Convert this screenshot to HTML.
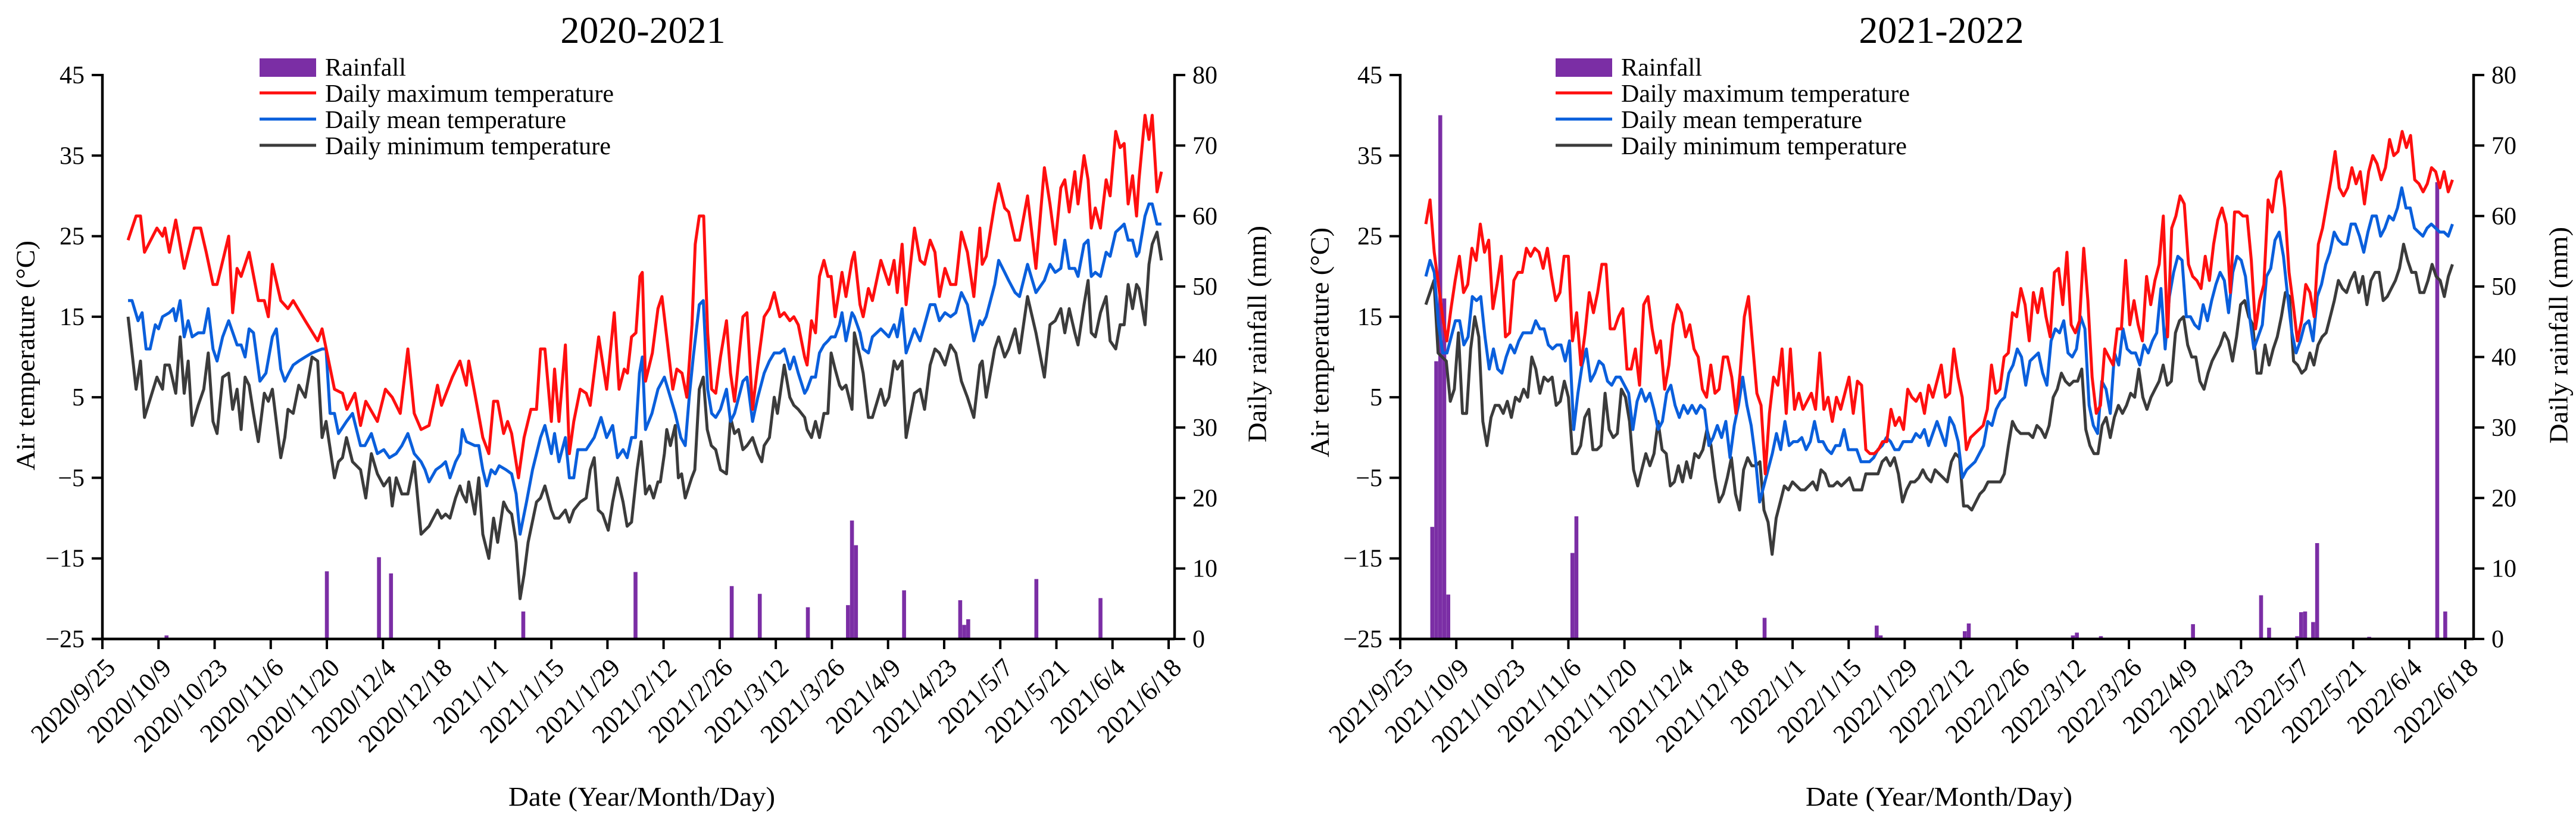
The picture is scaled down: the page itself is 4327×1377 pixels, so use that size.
<!DOCTYPE html>
<html><head><meta charset="utf-8"><style>
html,body{margin:0;padding:0;background:#fff;}
svg{display:block;font-family:"Liberation Serif","Times New Roman",serif;}
</style></head><body>
<svg id="chart" xmlns="http://www.w3.org/2000/svg" width="4327" height="1377" viewBox="0 0 4327 1377"></svg>
<script>
// ===== Data: panel 1 (2020-2021), days since 2020/9/25 =====
const tickLabels1 = ["2020/9/25","2020/10/9","2020/10/23","2020/11/6","2020/11/20","2020/12/4","2020/12/18","2021/1/1","2021/1/15","2021/1/29","2021/2/12","2021/2/26","2021/3/12","2021/3/26","2021/4/9","2021/4/23","2021/5/7","2021/5/21","2021/6/4","2021/6/18"];
const maxDays1 = [6.4,8.4,9.5,10.5,13.6,15.0,15.6,16.7,18.3,20.4,22.9,24.5,25.9,27.6,28.6,31.5,32.5,33.6,34.6,36.6,38.9,40.4,41.4,42.4,44.5,46.3,47.6,50.6,53.7,54.8,57.9,59.9,61.0,63.0,64.4,65.7,68.6,70.6,72.3,74.3,76.2,77.8,79.5,81.5,83.6,84.6,87.3,89.2,90.8,91.4,92.9,94.9,96.4,97.6,98.6,100.1,101.1,102.1,103.8,105.2,106.9,108.3,109.3,110.4,112.0,112.8,113.9,115.5,116.5,117.6,119.2,120.7,121.7,123.8,125.8,127.7,128.9,130.2,131.0,132.0,133.1,134.1,134.7,135.5,137.2,138.6,139.6,140.9,142.3,143.3,144.6,145.8,147.1,147.9,148.9,150.0,151.0,152.0,153.0,154.2,155.7,156.7,157.7,159.8,160.8,162.2,163.5,165.1,166.4,167.6,169.0,170.1,171.5,172.5,173.6,175.2,175.8,176.9,177.9,178.9,180.0,181.0,181.8,182.8,183.9,184.5,185.5,187.0,187.6,189.0,189.8,191.1,192.1,194.2,196.2,197.5,198.3,199.5,200.5,202.6,204.0,205.1,206.5,207.7,208.8,210.2,211.6,212.9,214.3,215.8,217.4,218.9,219.5,220.5,222.6,223.6,225.1,226.1,227.7,228.8,230.8,232.9,235.0,236.4,237.7,239.1,240.1,241.2,242.6,243.4,244.9,245.9,246.7,247.7,249.0,250.4,251.4,252.8,253.9,254.9,255.9,257.0,258.0,258.6,260.1,261.1,261.9,263.1,264.2];
const maxVals1 = [24.5,27.5,27.5,23,26,25,26,23,27,21,26,26,23,19,19,25,15.5,21,20,23,17,17,15,21.5,17,16,17,14.5,12,13.5,6,5.5,3.5,5.5,1.5,4.5,2,6,5,3,11,3,1,1.5,6.5,4,7.5,9.5,6.5,9.5,5.5,0,-2,4.5,4.5,0.5,2,0.5,-5,0,3.5,3.5,11,11,2,8.5,2,11.5,-2,2,6,5.5,4,12.5,6,15.5,6,8.5,8,12.5,13,20,20.5,7,10.5,16,17.5,12,6,8.5,8,5,14,24,27.5,27.5,13,6,5.5,10,14.5,8,4.5,15,15.5,3.5,9,15,16,18,15,15.5,14.5,15,14,10,9,14.5,13,20,22,20,20,15,18.5,20.5,17.5,22,23,16.5,15,18.5,17,22,19,22,18,24,16.5,26,22,21.5,24.5,23,17.5,21,19,19,25.5,23,17.5,26,21.5,22.5,29,31.5,28.5,28,24.5,24.5,30,21,33.5,29,24,31,32,28,33,29,35,32,26,28.5,26,32,30,38,36,36.5,29,32.5,27.5,32,40,37,40,30.5,33];
const meanDays1 = [6.4,7.4,8.9,9.9,10.9,11.9,13.2,14.0,15.0,16.7,17.7,18.3,19.4,20.4,21.4,22.4,23.9,25.3,26.4,27.6,28.6,30.0,31.5,33.6,34.6,35.6,36.6,37.7,39.3,40.8,42.4,43.4,44.5,45.5,46.5,47.6,49.0,50.6,52.3,54.8,55.8,56.8,57.9,58.9,60.9,62.4,64.4,65.5,67.1,68.6,70.2,71.6,73.3,74.7,76.2,77.8,79.5,80.5,81.5,83.2,84.6,85.6,86.7,88.1,89.2,89.8,90.8,92.9,93.9,94.9,95.9,97.0,98.0,99.0,100.7,102.1,103.2,104.2,105.8,107.3,109.3,110.4,112.0,112.8,113.9,115.5,116.5,117.6,118.6,120.7,122.7,124.4,125.8,127.3,128.5,129.9,130.9,132.0,133.0,134.0,134.7,135.5,137.1,138.6,140.2,141.7,142.9,144.3,145.4,146.4,147.4,148.9,149.9,151.0,152.0,153.0,154.2,155.7,156.7,157.7,159.8,160.8,162.2,163.5,165.1,166.4,167.6,169.0,170.1,171.5,172.5,173.6,175.2,175.8,176.9,177.9,178.9,180.0,181.0,181.8,182.8,183.9,184.5,185.5,187.0,187.6,189.0,189.8,191.1,192.1,194.2,196.2,197.5,198.3,199.5,200.5,202.6,204.0,205.1,206.5,207.7,208.8,210.2,211.6,212.9,214.3,215.8,217.4,218.9,219.5,220.5,222.6,223.6,225.1,226.1,227.7,228.8,230.8,232.9,235.0,236.4,237.7,239.1,240.1,241.2,242.6,243.4,244.9,245.9,246.7,247.7,249.0,250.4,251.4,252.8,253.9,254.9,255.9,257.0,258.0,258.6,260.1,261.1,261.9,263.1,264.2];
const meanVals1 = [17,17,14.5,15.5,11,11,14,13.5,15,15.5,16,14.5,17,12.5,14.5,12.5,13,13,16,11,9.5,12.5,14.5,11.5,11.5,10,13.5,13,7,8,12.5,13.5,8.5,7,8,9,9.5,10,10.5,11,11,3,3,0.5,2,3,-1,-1,0.5,-2,-1.5,-2.5,-2,-1,0.5,-2,-3,-4,-5.5,-4,-3.5,-3,-5,-3,-2,1,-0.5,-1,-1,-4,-6,-4,-4.5,-3.5,-4,-4.5,-7,-12,-8,-4,0,1.5,-2,0.5,-3,0,-5,-5,-1.5,-1.5,0,2.5,0,1.5,-2.5,-1.5,-2.5,0,0,8,10,1,3,6,7.5,5,3,0,-1,5,10,16.5,17,6,3,2.5,3.5,6,2,3,7,7.5,2,5,8,9.5,10.5,10.5,11,8.5,10,8,5.5,6,7.5,7.5,10.5,11.5,12,12.5,12.5,14,15.5,12,15.5,15,13,11,10.5,12.5,13.5,12.5,14,12.5,16,10.5,13.5,12,14,16.5,16.5,14.5,15.5,15,15.5,18,16.5,12,14.5,14,15,19,22,20.5,19.5,18,17.5,21.5,18,19.5,21.5,20.5,21,24.5,21,21,20,24,24.5,20,20.5,20,23,22.5,25.5,26,26.5,24.5,24.5,22.5,23,27.5,29,29,26.5,26.5];
const minDays1 = [6.4,8.4,9.5,10.5,13.6,15.0,15.6,16.7,18.3,19.4,20.4,21.4,22.4,23.9,25.3,26.4,27.6,28.6,30.0,31.5,32.5,33.6,34.6,35.6,36.6,37.7,38.9,40.4,41.4,42.4,44.5,45.5,46.3,47.6,49.0,50.6,52.3,53.7,54.8,55.8,57.9,58.9,59.9,60.9,62.4,64.4,65.7,67.1,68.6,70.2,71.6,72.3,73.3,74.7,76.2,77.8,79.5,80.5,81.5,83.6,84.6,85.6,86.7,88.1,89.2,89.8,90.8,91.4,92.9,93.9,94.9,96.4,97.6,98.6,100.1,101.1,102.1,103.2,104.2,105.2,106.2,108.3,109.3,110.4,112.0,112.8,113.9,115.5,116.5,117.6,119.2,120.7,121.7,122.7,123.7,124.8,126.2,127.3,128.5,129.9,130.9,132.0,133.4,134.4,135.5,136.5,137.5,138.6,139.2,140.2,140.8,141.7,142.9,143.7,144.5,145.4,147.0,147.8,148.9,149.9,150.9,151.9,153.0,154.2,155.7,156.7,157.7,158.7,159.8,160.8,162.2,163.5,164.5,165.1,166.4,167.6,168.4,170.1,171.5,172.5,173.6,175.2,175.8,176.9,177.9,178.9,180.0,181.0,181.8,182.8,183.9,184.5,185.5,187.0,187.6,189.0,189.8,191.1,192.1,194.2,195.2,196.2,197.5,198.3,199.5,200.5,202.6,204.0,205.1,206.5,207.7,208.8,210.2,211.6,212.9,214.3,215.8,217.4,218.9,219.5,220.5,222.6,223.6,225.1,226.1,227.7,228.8,230.8,232.9,235.0,236.4,237.7,239.1,240.1,241.2,242.6,243.4,244.9,245.9,246.7,247.7,249.0,250.4,251.4,252.8,253.9,254.9,255.9,257.0,258.0,258.6,260.1,261.1,261.9,263.1,264.2];
const minVals1 = [15,6,9.5,2.5,7.5,6,9,9,5.5,12.5,5.5,9.5,1.5,4,6,10.5,2,0.5,7.5,8,3.5,6,1,7.5,6.5,3,-0.5,5.5,4.5,6,-2.5,0,3.5,3,6.5,5,10,9.5,0,2,-5,-3,-2.5,0,-3,-4,-7.5,-2,-4.5,-6,-5,-8.5,-5,-7,-7,-3,-12,-11.5,-11,-9,-10,-9.5,-10,-7.5,-6,-7,-8,-5.5,-9.5,-5,-12,-15,-10,-13,-8,-9,-9.5,-13,-20,-17,-13,-8,-7.5,-6,-9,-10,-10,-9,-10.5,-9,-8,-7.5,-4,-2.5,-9,-9.5,-11.5,-8,-5,-8,-11,-10.5,-4,-0.5,-7,-6,-7.5,-5.5,-5.5,-2,1,-1,1.5,-5,-4.5,-7.5,-5,-4,6,7.5,1,-1,-1.5,-4,-4.5,2.5,0.5,1,-1.5,-1,0,-2,-3,-1,0,5,3,9,5,4,3.5,2.5,1,0,2,0,3,3,10.5,8.5,6.5,6,6.5,3.5,13,10,8,2.5,2.5,6,4,5,9.5,8.5,9.5,0,5.5,6,3.5,9,11,10.5,9,11.5,10.5,7,5,2.5,9,9.5,5,11,12.5,10,11,13.5,10.5,17.5,13,7.5,14,14.5,16,13,16,13,11.5,16.5,19.5,13,12.5,15.5,17.5,12,11,14,14,19,16,19,18.5,14,21.5,24,25.5,22];
const rainDays1 = [16,56,69,72,105,133,157,164,176,186,187,188,200,214,215,216,233,249];
const rainVals1 = [0.5,9.6,11.6,9.3,3.9,9.5,7.5,6.4,4.5,4.8,16.8,13.3,6.9,5.5,2.0,2.8,8.5,5.8];

// ===== Data: panel 2 (2021-2022), daily records from day 6.4 to 262.8 since 2021/9/25 =====
const tickLabels2 = ["2021/9/25","2021/10/9","2021/10/23","2021/11/6","2021/11/20","2021/12/4","2021/12/18","2022/1/1","2022/1/15","2022/1/29","2022/2/12","2022/2/26","2022/3/12","2022/3/26","2022/4/9","2022/4/23","2022/5/7","2022/5/21","2022/6/4","2022/6/18"];
const recordStart2 = 6.4;
const recordEnd2 = 262.8;
const maxVals2 = [26.5,29.5,23,19,15,12,16,19.5,22.5,18,19,23.5,22,26.5,23,24.5,16,19,22.5,12.5,13,19.5,20.5,20.5,23.5,22.5,23.5,23,21,23.5,20,17,18,22.5,22.5,12,15.5,9,13,18,15.5,18,21.5,21.5,13.5,13.5,15,16,8.5,8.5,11,6.5,16.5,17.5,13.5,10.5,12,6,9,14,16.5,15.5,12.5,14,11,10,6,5,9,5.5,6,10,10,7.5,3,8,15,17.5,11.5,5.5,4,-4.5,3,7.5,6.5,11,3,11,3.5,5.5,3.5,4.5,5.5,3.5,10.5,3.5,5,2,5,3.5,5.5,7.5,3,7,6.5,-1.5,-2,-2,-1.5,-0.5,-0.5,3.5,1.5,2.5,1,6,5,4.5,5.5,3,6.5,5,7,9,5,5.5,11,7.5,5,-1.5,0,0.5,1,1.5,3.5,9,5.5,6,10,10.5,15.5,15,18.5,16.5,12,18,15.5,18.5,15,12.5,20.5,21,16.5,23,14,13,14.5,23.5,17,7.5,3,4,11,10,9,13.5,13.5,22,14,17,14,12,20,16.5,19.5,21.5,27.5,12.5,26,27.5,30,29,21.5,20,19.5,18.5,22.5,19.5,24,27,28.5,26.5,18,28,28,27.5,27.5,22,13.5,17,19,29.5,28,32,33,28.5,20.5,16.5,12,14.5,19,18,15,24,26,29,32,35.5,31,30,31,33.5,31.5,33,29,33,35,34,32,33.5,37,35,35.5,38,36,37.5,32,31.5,30.5,31.5,33.5,33,31,33,30.5,32];
const meanVals2 = [20,22,20.5,14,10.5,10.5,12.5,14.5,14.5,11.5,12.5,17.5,17,17.5,12.5,8.5,11,8.5,8,10,11.5,10.5,12,13,13,13,14.5,13.5,13.5,11.5,11,11.5,11.5,9.5,12,1,5.5,9,11,7,8,9.5,9,7,6.5,7.5,7.5,6.5,5.5,1,4.5,6,4.5,5.5,3.5,1,2,5.5,6.5,4,2.5,4,3,4,3,4,3.5,-1,0,1.5,0,2,-2.5,1.5,4,7.5,4,1.5,-2.5,-8,-6,-4,-2,0.5,-1.5,2,-1,-0.5,-0.5,0,-1.5,-0.5,2,-0.5,-0.5,-1.5,-2,-1,-1,1,-1.5,-1.5,-1.5,-3,-3,-3,-2.5,-1.5,-1,0,-0.5,-1.5,-1.5,-0.5,-0.5,-0.5,0.5,0,1,-1,0.5,2,0.5,-1,2.5,1.5,-0.5,-5,-4,-3.5,-3,-2,-1,2,1.5,3.5,4.5,5,8,9,11,10,6.5,9.5,10,10.5,8,6.5,12,13.5,13,14.5,10.5,10,11,15,13.5,4,1.5,0.5,7,6,3,10.5,9,13.5,11,10.5,10.5,9,11.5,10.5,12,13,18.5,11,17.5,20.5,22.5,22,15,15,14,13.5,16.5,14.5,17,19,20.5,19.5,15.5,20.5,22.5,22,20,15,11,12.5,14,20,21,24.5,25.5,22.5,17.5,13,10.5,12,14,14.5,12,17.5,19,21.5,23,25.5,24.5,24,24,26.5,26.5,25,23,25.5,27.5,27.5,25,26,27.5,27,28.5,31,28.5,28.5,26,25.5,25,26,26.5,26,25.5,25.5,25,26.5];
const minVals2 = [16.5,18,19.5,10.5,10,9.5,4.5,6,13,3,3,11,15,12.5,2,-1,2.5,4,4,3,4.5,2.5,5,4.5,6,5,10,8.5,5.5,7.5,7,7.5,4,4.5,7,5,-2,-2,-1,2.5,3.5,-1.5,-1.5,-1,5.5,1,0,0.5,6,5,2,-4,-6,-4,-2,-3.5,-2,2,-1.5,-2,-6,-5.5,-3.5,-5.5,-3,-5,-2,-2.5,-1.5,1,-1,-5,-8,-7,-5,-2.5,-7,-9,-4,-2.5,-3.5,-3.5,-3,-9,-10.5,-14.5,-10,-8,-6,-6.5,-5.5,-6,-6.5,-6.5,-6,-5.5,-6.5,-4,-4.5,-6,-6,-5.5,-6,-5.5,-5,-6.5,-6.5,-6.5,-4.5,-4.5,-4.5,-4.5,-3,-2.5,-3.5,-2.5,-4.5,-8,-6.5,-5.5,-5.5,-5,-4,-5,-5.5,-4,-4.5,-5,-5.5,-3,-2,-2.5,-8.5,-8.5,-9,-8,-7,-6.5,-5.5,-5.5,-5.5,-5.5,-4.5,-1,2,1,0.5,0.5,0.5,0,1.5,1,0,1.5,5,6,8,7,6.5,7,7,8.5,1,-1,-2,-2,1.5,2.5,0,2.5,4,3,4,5.5,5,8.5,5,3.5,5,6,7,9,6.5,7,13,14.5,15,11.5,10,10,7,6,8,9.5,10.5,11.5,13,12,9.5,12.5,16.5,17,15,14,8,8,11.5,9,11,12.5,15,18,17.5,9.5,9,8,8.5,10.5,9,11.5,12.5,13,15,17,19.5,18.5,18,19.5,20.5,18,20,16.5,19.5,20.5,20.5,17,17.5,18.5,19.5,21,24,22,20.5,20.5,18,18,19.5,21.5,20,19.5,17.5,20,21.5];
const rainDays2 = [8,9,10,11,12,43,44,91,119,120,141,142,168,169,175,198,215,217,224,225,226,228,229,242,259,261];
const rainVals2 = [15.9,39.4,74.3,48.3,6.3,12.2,17.4,3.0,1.9,0.5,1.1,2.2,0.5,0.9,0.4,2.1,6.2,1.6,0.4,3.8,3.9,2.4,13.6,0.3,64.8,3.9];

const tempTicks = [-25,-15,-5,5,15,25,35,45];
const rainTicks = [0,10,20,30,40,50,60,70,80];

// ===== Rendering =====
const NS = "http://www.w3.org/2000/svg";
const svg = document.getElementById("chart");
function mk(tag, attrs, parent) {
  const e = document.createElementNS(NS, tag);
  for (const k in attrs) e.setAttribute(k, attrs[k]);
  (parent || svg).appendChild(e);
  return e;
}
const Y_TOP = 126, Y_BOT = 1073;
const yT = t => Y_TOP + (45 - t) / 70 * (Y_BOT - Y_TOP);
const yR = r => Y_BOT - r / 80 * (Y_BOT - Y_TOP);
const COL = {max: "#ff0f0f", mean: "#0a5fdc", min: "#3b3b3b", rain: "#7b2ea5"};

function panel(cfg) {
  const g = mk("g", {});
  
  
  const xD = d => cfg.x0 + d * cfg.ppd;

  const title = mk("text", {x: cfg.titleX, y: 72, "font-size": 64, "text-anchor": "middle", fill: "#000"}, g);
  title.textContent = cfg.title;
  
  

  const bars = mk("g", {}, g);
  
  
  for (let i = 0; i < cfg.rainDays.length; i++) {
    const x = xD(cfg.rainDays[i]);
    const y = yR(cfg.rainVals[i]);
    const b = mk("rect", {x: x - 3.3, y: y, width: 6.6, height: Y_BOT - y, fill: COL.rain}, bars);
    
    
  }

  const series = [
    ["min-temperature-line", cfg.minDays, cfg.minVals, COL.min],
    ["mean-temperature-line", cfg.meanDays, cfg.meanVals, COL.mean],
    ["max-temperature-line", cfg.maxDays, cfg.maxVals, COL.max]
  ];
  for (const s of series) {
    const n = Math.min(s[1].length, s[2].length);
    let d = "";
    for (let i = 0; i < n; i++) d += (i ? "L" : "M") + xD(s[1][i]).toFixed(1) + "," + yT(s[2][i]).toFixed(1);
    const p = mk("path", {d: d, fill: "none", stroke: s[3], "stroke-width": 5, "stroke-linejoin": "round"}, g);
    
    
  }

  const axes = mk("g", {stroke: "#000", "stroke-width": 4.5, fill: "none"}, g);
  
  
  mk("line", {x1: cfg.x0, y1: Y_TOP - 2, x2: cfg.x0, y2: Y_BOT + 2}, axes);
  mk("line", {x1: cfg.xR, y1: Y_TOP - 2, x2: cfg.xR, y2: Y_BOT + 2}, axes);
  mk("line", {x1: cfg.x0 - 18, y1: Y_BOT, x2: cfg.xR, y2: Y_BOT}, axes);

  for (const t of tempTicks) {
    const y = yT(t);
    mk("line", {x1: cfg.x0 - 18, y1: y, x2: cfg.x0, y2: y, stroke: "#000", "stroke-width": 4}, g);
    const tl = mk("text", {x: cfg.x0 - 30, y: y + 14, "font-size": 42, "text-anchor": "end", fill: "#000"}, g);
    tl.textContent = (t < 0 ? "\u2212" + (-t) : String(t));
    
    
  }
  for (const r of rainTicks) {
    const y = yR(r);
    mk("line", {x1: cfg.xR, y1: y, x2: cfg.xR + 18, y2: y, stroke: "#000", "stroke-width": 4}, g);
    const tl = mk("text", {x: cfg.xR + 30, y: y + 14, "font-size": 42, "text-anchor": "start", fill: "#000"}, g);
    tl.textContent = String(r);
    
    
  }
  for (let i = 0; i < cfg.ticks.length; i++) {
    const x = xD(i * 14);
    mk("line", {x1: x, y1: Y_BOT, x2: x, y2: Y_BOT + 17, stroke: "#000", "stroke-width": 4}, g);
    const tl = mk("text", {x: 0, y: 0, "font-size": 44, "text-anchor": "end", fill: "#000",
      transform: "translate(" + (x + 24) + "," + 1124 + ") rotate(-45)"}, g);
    tl.textContent = cfg.ticks[i];
    
    
  }

  const yl = mk("text", {x: 0, y: 0, "font-size": 44, "text-anchor": "middle", "dominant-baseline": "central", fill: "#000",
    transform: "translate(" + cfg.ylX + "," + cfg.ylY + ") rotate(-90)", textLength: 386, lengthAdjust: "spacingAndGlyphs"}, g);
  yl.textContent = "Air temperature (\u00B0C)";
  
  
  const rl = mk("text", {x: 0, y: 0, "font-size": 44, "text-anchor": "middle", "dominant-baseline": "central", fill: "#000",
    transform: "translate(" + cfg.rlX + "," + cfg.rlY + ") rotate(-90)", textLength: 364, lengthAdjust: "spacingAndGlyphs"}, g);
  rl.textContent = "Daily rainfall (mm)";
  
  
  const xl = mk("text", {x: cfg.xlX, y: 1353, "font-size": 46, "text-anchor": "middle", fill: "#000", textLength: 448, lengthAdjust: "spacingAndGlyphs"}, g);
  xl.textContent = "Date (Year/Month/Day)";
  
  

  const lg = mk("g", {}, g);
  
  
  const lx = cfg.legX;
  const r = mk("rect", {x: lx, y: 98, width: 95, height: 31, fill: COL.rain}, lg);
  
  
  const items = [["Rainfall", null, 127, 136], ["Daily maximum temperature", COL.max, 171, 485], ["Daily mean temperature", COL.mean, 215, 405], ["Daily minimum temperature", COL.min, 259, 480]];
  const lineY = [0, 156, 200, 244];
  for (let i = 0; i < items.length; i++) {
    if (items[i][1]) {
      const ln = mk("line", {x1: lx, y1: lineY[i], x2: lx + 95, y2: lineY[i], stroke: items[i][1], "stroke-width": 5}, lg);
      
      
    }
    const t = mk("text", {x: lx + 110, y: items[i][2], "font-size": 42, fill: "#000", textLength: items[i][3], lengthAdjust: "spacingAndGlyphs"}, lg);
    t.textContent = items[i][0];
    
    
  }
}

function spread(vals, a, b) { const n = vals.length; return vals.map((v, i) => a + (b - a) * i / (n - 1)); }

panel({name: "panel-2020-2021", title: "2020-2021", titleX: 1080, x0: 172, xR: 1973, ppd: (1963 - 172) / 266,
  ticks: tickLabels1, maxDays: maxDays1, maxVals: maxVals1, meanDays: meanDays1, meanVals: meanVals1,
  minDays: minDays1, minVals: minVals1, rainDays: rainDays1, rainVals: rainVals1,
  ylX: 43, ylY: 597, rlX: 2112, rlY: 561, xlX: 1078, legX: 436});
panel({name: "panel-2021-2022", title: "2021-2022", titleX: 3261, x0: 2352, xR: 4155, ppd: (4141 - 2352) / 266,
  ticks: tickLabels2, maxDays: spread(maxVals2, recordStart2, recordEnd2), maxVals: maxVals2,
  meanDays: spread(meanVals2, recordStart2, recordEnd2), meanVals: meanVals2,
  minDays: spread(minVals2, recordStart2, recordEnd2), minVals: minVals2, rainDays: rainDays2, rainVals: rainVals2,
  ylX: 2217, ylY: 575, rlX: 4298, rlY: 563, xlX: 3257, legX: 2613});
</script>
</body></html>
